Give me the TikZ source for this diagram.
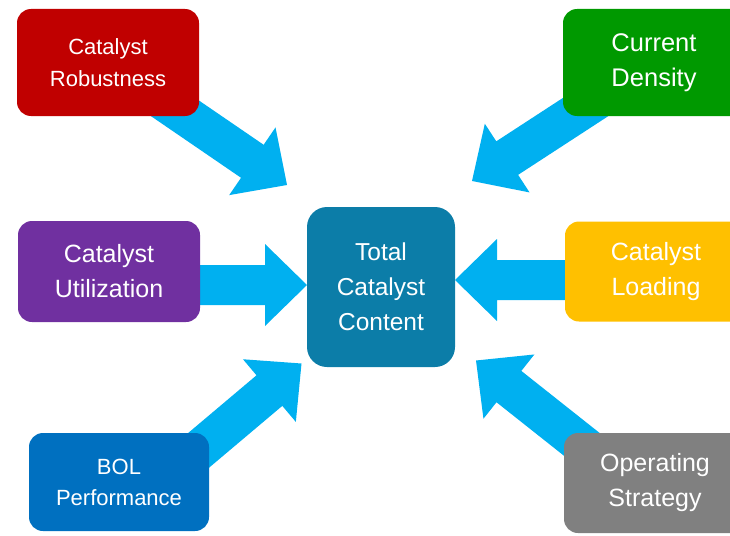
\documentclass[tikz,border=0pt]{standalone}
\usepackage{fontspec}
\setmainfont{Liberation Sans}
\usetikzlibrary{calc,backgrounds}

\definecolor{cRed}{HTML}{C00000}
\definecolor{cGreen}{HTML}{009900}
\definecolor{cPurple}{HTML}{7030A0}
\definecolor{cTeal}{HTML}{0C7DA8}
\definecolor{cGold}{HTML}{FFC000}
\definecolor{cBlue}{HTML}{0070C0}
\definecolor{cGray}{HTML}{808080}
\definecolor{cArrow}{HTML}{00B0F0}

\tikzset{
  box/.style={rounded corners=14pt, minimum width=182pt, inner sep=0pt,
              text=white, align=center},
  flow/.style={fill=cArrow},
}

% block arrow from #1 (tail, hidden under its box) to #2 (tip)
\newcommand\blockarrow[2]{%
  \path ($(#2)!42pt!(#1)$) coordinate (hb);
  \fill[flow] ($(#1)!20pt!90:(#2)$) -- ($(hb)!20pt!90:(#2)$)
    -- ($(hb)!41pt!90:(#2)$) -- (#2) -- ($(hb)!41pt!-90:(#2)$)
    -- ($(hb)!20pt!-90:(#2)$) -- ($(#1)!20pt!-90:(#2)$) -- cycle;
}

\begin{document}
\begin{tikzpicture}[x=1pt, y=-1pt]
  \useasboundingbox (0,0) rectangle (730,535);
  \clip (0,0) rectangle (730,535);

  % factor boxes
  \node[box, fill=cRed, minimum height=107pt, font=\fontsize{22}{32}\selectfont]
    (rob) at (108,62.5) {Catalyst\\Robustness};
  \node[box, fill=cGreen, minimum height=107pt, font=\fontsize{25.5}{35}\selectfont]
    (cur) at (654,62.5) {Current\\Density};
  \node[box, fill=cPurple, minimum height=101pt, font=\fontsize{25}{35}\selectfont]
    (util) at (109,271.5) {Catalyst\\Utilization};
  \node[box, fill=cGold, minimum height=100pt, font=\fontsize{25}{35}\selectfont]
    (load) at (656,271.5) {Catalyst\\Loading};
  \node[box, fill=cBlue, minimum width=180pt, minimum height=98pt, font=\fontsize{22}{31}\selectfont]
    (bol) at (119,482) {BOL\\Performance};
  \node[box, fill=cGray, minimum height=100pt, font=\fontsize{25}{35}\selectfont]
    (op) at (655,483) {Operating\\Strategy};

  % central box
  \node[box, fill=cTeal, rounded corners=20pt, minimum width=148pt, minimum height=160pt,
        font=\fontsize{24.5}{35}\selectfont]
    (tot) at (381,287) {Total\\Catalyst\\Content};

  % arrow ends
  \coordinate (tipR) at (287,185);
  \coordinate (tipC) at (472,181);
  \coordinate (tipU) at (307,285);
  \coordinate (tailU) at (util.center |- tipU);
  \coordinate (tipL) at (455,280);
  \coordinate (tailL) at (load.center |- tipL);
  \coordinate (tipB) at (301.5,363.5);
  \coordinate (tailB) at (192.5,455.5);
  \coordinate (tipO) at (476,360.5);
  \coordinate (tailO) at (611,467.5);

  \begin{scope}[on background layer]
    \blockarrow{rob.center}{tipR}
    \blockarrow{cur.center}{tipC}
    \blockarrow{tailU}{tipU}
    \blockarrow{tailL}{tipL}
    \blockarrow{tailB}{tipB}
    \blockarrow{tailO}{tipO}
  \end{scope}
\end{tikzpicture}
\end{document}
